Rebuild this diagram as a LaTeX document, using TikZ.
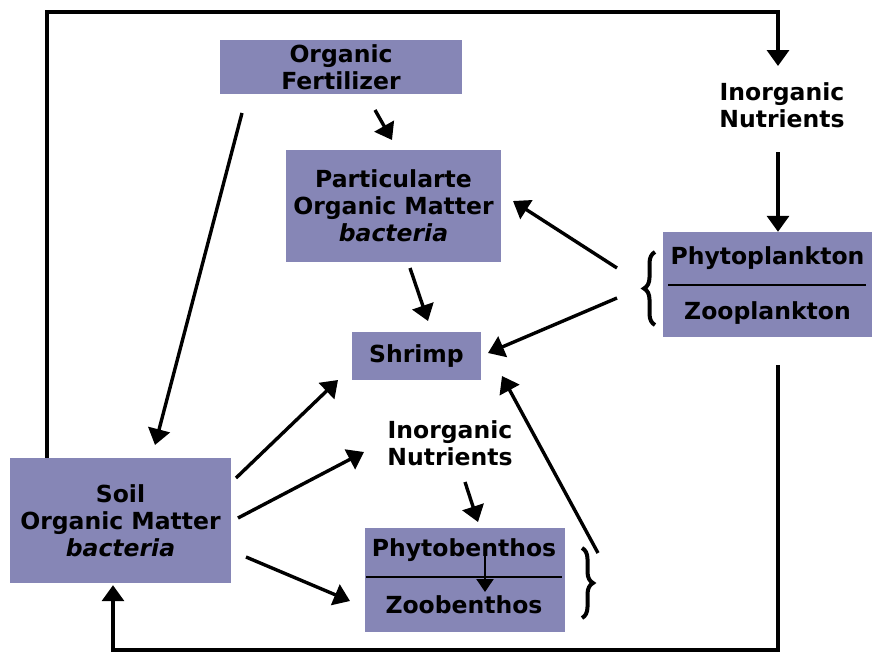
\documentclass[tikz,border=0pt]{standalone}
\usepackage{fontspec}
\setmainfont{DejaVu Sans}
\usetikzlibrary{arrows.meta,decorations.pathreplacing}
\definecolor{boxc}{RGB}{134,134,182}
\begin{document}
\begin{tikzpicture}[x=1pt,y=-1pt,
  box/.style={fill=boxc,draw=none,inner sep=0pt,align=center,font=\fontsize{23.5}{27}\selectfont\bfseries},
  lbl/.style={align=center,inner sep=0pt,font=\fontsize{23.5}{27}\selectfont\bfseries},
  arr/.style={line width=3.4pt,-{Triangle[length=16pt,width=22pt]}},
  ln/.style={line width=3.4pt},
  brc/.style={line width=4pt,decorate,decoration={brace,amplitude=11pt}}]
\useasboundingbox (0,0) rectangle (872,656);
% boxes
\node[box,minimum width=242pt,minimum height=54pt] (fert) at (341,67) {Organic\\Fertilizer};
\node[box,minimum width=215pt,minimum height=112pt] (pom) at (393.5,206) {Particularte\\Organic Matter\\\textit{bacteria}};
\node[box,minimum width=129pt,minimum height=48pt] (shrimp) at (416.5,356) {Shrimp};
\node[box,minimum width=209pt,minimum height=105pt] (plank) at (767.5,284.5) {};
\node[lbl] (phyto) at (767.5,258) {Phytoplankton};
\node[lbl] (zoo) at (767.5,313) {Zooplankton};
\draw[line width=2.8pt] (668,285) -- (866,285);
\node[box,minimum width=221pt,minimum height=125pt] (soil) at (120.5,520.5) {Soil\\Organic Matter\\\textit{bacteria}};
\node[box,minimum width=200pt,minimum height=104pt] (benth) at (465,580) {};
\node[lbl] (pbenth) at (464,550) {Phytobenthos};
\node[lbl] (zbenth) at (464,605) {Zoobenthos};
\draw[line width=2.8pt] (366,577) -- (562,577);
\node[lbl] (inut1) at (782,105) {Inorganic\\Nutrients};
\node[lbl] (inut2) at (450,443) {Inorganic\\Nutrients};
% braces
\draw[brc] (655,325) -- coordinate[midway,xshift=-14pt] (lb) (655,252);
\draw[brc] (582,548) -- coordinate[midway,xshift=14pt] (rb) (582,618);
% outer loop
\coordinate (o1) at (47,12);
\coordinate (o2) at (778,12);
\coordinate (o3) at (778,650);
\coordinate (o4) at (113,650);
\coordinate (t1) at (778,66);
\draw[ln] (soil.north -| o1) -- (o1) -- (o2) -- ++(0,30);
\draw[arr] (o2) ++(0,28) -- (t1);
\draw[arr] (778,152) -- (plank.north -| o2);
\draw[ln] (778,365) -- (o3) -- (o4) -- ([yshift=-10pt]soil.south -| o4);
\draw[arr] ([yshift=-20pt]soil.south -| o4) -- ([yshift=-2pt]soil.south -| o4);
% inner arrows
\draw[arr] (375,110) -- (392,140);
\draw[arr] (242,113) -- (155,445);
\draw[arr] (410,268) -- (428,321);
\draw[arr] (617,268) -- (513,201);
\draw[arr] (617,298) -- (488,353);
\draw[arr] (236,478) -- (338,380);
\draw[arr] (238,518) -- (364,452);
\draw[arr] (246,557) -- (350,601);
\draw[arr] (465,482) -- (478,522);
\draw[arr,line width=2.2pt,-{Triangle[length=13pt,width=17pt]}] (485,555) -- (485,592);
\draw[arr] (598,553) -- (502,376);
\end{tikzpicture}
\end{document}
